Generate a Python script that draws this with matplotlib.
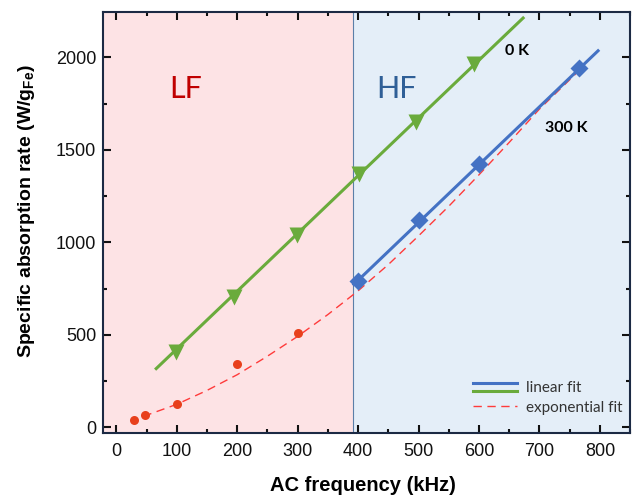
import numpy as np
import matplotlib
matplotlib.use('Agg')
import matplotlib.pyplot as plt
from matplotlib.lines import Line2D
from matplotlib.legend_handler import HandlerBase
from matplotlib.ticker import MultipleLocator

# 데이터
freq_lf = [30, 47, 100, 200, 300]
sar_lf = [40, 66, 129, 342, 508]

freq_0k = [98, 194, 299, 402, 496, 592]
sar_0k = [409, 706, 1040, 1370, 1648, 1962]

freq_300k = [400, 501, 600, 766]
sar_300k = [791, 1121, 1424, 1941]

# 선형 피팅 선의 양 끝점
fit0k_x = [66, 673]
fit0k_y = [318, 2212]
fit300k_x = [393, 797]
fit300k_y = [773, 2035]

# 지수 피팅 곡선 (그림에서 읽은 점들)
exp_x = [45, 100, 150, 200, 250, 300, 350, 400, 450, 500, 550, 600, 650, 700, 760]
exp_y = [60, 125, 200, 285, 385, 492, 610, 738, 880, 1035, 1195, 1365, 1540, 1720, 1910]

boundary = 392

plt.rcParams['font.family'] = 'Liberation Sans'
plt.rcParams['mathtext.fontset'] = 'custom'
plt.rcParams['mathtext.rm'] = 'Liberation Sans'
plt.rcParams['mathtext.bf'] = 'Liberation Sans:bold'

green = '#6aab3c'
blue = '#4472c4'
red_dot = '#e8401c'
red_line = '#ff3b3b'


class HandlerDouble(HandlerBase):
    # 파란선과 초록선을 위아래로 겹쳐 그리는 범례 핸들러
    def create_artists(self, legend, orig_handle, xdescent, ydescent,
                       width, height, fontsize, trans):
        arts = []
        offs = [2.6, -2.6]
        for ln, off in zip(orig_handle, offs):
            y = height / 2 - ydescent + off
            a = Line2D([-xdescent, width - xdescent], [y, y],
                       color=ln.get_color(), lw=2.2, transform=trans)
            arts.append(a)
        return arts


fig = plt.figure(figsize=(6.32, 4.96), dpi=100)
ax = fig.add_axes([0.163, 0.127, 0.834, 0.849])

ax.axvspan(-22, boundary, color='#fde3e5', lw=0, zorder=0)
ax.axvspan(boundary, 850, color='#e4eef8', lw=0, zorder=0)
ax.axvline(boundary, color='#5b7fa8', lw=0.8, zorder=1)

# 피팅 선
l_exp, = ax.plot(exp_x, exp_y, '--', color=red_line, lw=1.0, dashes=(6, 4), zorder=2)
l_green, = ax.plot(fit0k_x, fit0k_y, '-', color=green, lw=2.2, zorder=3)
l_blue, = ax.plot(fit300k_x, fit300k_y, '-', color=blue, lw=2.2, zorder=3)

# 데이터 점
ax.plot(freq_lf, sar_lf, 'o', color=red_dot, ms=6.5, mec='none', zorder=4)
ax.plot(freq_0k, sar_0k, 'v', color=green, ms=12, mec='none', zorder=4)
ax.plot(freq_300k, sar_300k, 'D', color=blue, ms=9.5, mec='none', zorder=4)

# 텍스트
ax.text(114, 1826, 'LF', color='#c00000', fontsize=22, family='Lato', ha='center', va='center')
ax.text(464, 1826, 'HF', color='#2f5f97', fontsize=22, family='Lato', ha='center', va='center')
ax.text(663, 2032, '0 K', fontsize=11.5, family='Lato', fontweight='bold', ha='center', va='center')
ax.text(744, 1616, '300 K', fontsize=11.5, family='Lato', fontweight='bold', ha='center', va='center')

ax.set_xlim(-22, 850)
ax.set_ylim(-30, 2245)

ax.xaxis.set_major_locator(MultipleLocator(100))
ax.xaxis.set_minor_locator(MultipleLocator(50))
ax.yaxis.set_major_locator(MultipleLocator(500))
ax.yaxis.set_minor_locator(MultipleLocator(250))

ax.tick_params(which='both', direction='in', top=True, right=True,
               labelsize=13, width=1.5, colors='#111111')
ax.tick_params(which='major', length=6)
ax.tick_params(which='minor', length=3)
ax.tick_params(axis='x', pad=7)
ax.tick_params(axis='y', pad=5)

for s in ax.spines.values():
    s.set_linewidth(1.5)
    s.set_color('#1c2a44')

ax.set_xlabel('AC frequency (kHz)', fontsize=14.5, fontweight='bold')
ax.set_ylabel(r'Specific absorption rate (W/g$_{\mathbf{Fe}}$)', fontsize=14, fontweight='bold')
ax.xaxis.set_label_coords(0.493, -0.102)
ax.yaxis.set_label_coords(-0.125, 0.527)

leg = ax.legend([(l_blue, l_green), l_exp], ['linear fit', 'exponential fit'],
                handler_map={tuple: HandlerDouble()}, loc='lower right',
                bbox_to_anchor=(1.012, 0.011), frameon=False, handlelength=2.9,
                prop={'family': 'Lato', 'size': 11}, labelspacing=0.35, handletextpad=0.6)
for t in leg.get_texts():
    t.set_color('#333333')

plt.savefig('out.png', dpi=100)
